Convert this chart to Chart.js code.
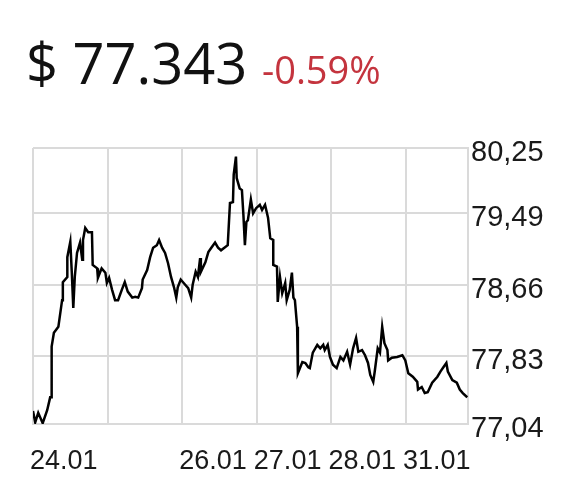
<!DOCTYPE html>
<html>
<head>
<meta charset="utf-8">
<script src="https://cdn.jsdelivr.net/npm/chart.js@4"></script>
<style>
  body { margin: 0; background: #fff; }
  #wrap { position: relative; width: 576px; height: 489px; }
  #price-chart { position: absolute; left: 0; top: 0; }
  #head { position: absolute; left: 26px; top: 34px; font-family: "Open Sans", "Noto Sans", sans-serif; font-size: 56px; line-height: 1; color: #111; white-space: nowrap; z-index: 2; }
  #head span { font-size: 38px; color: #c4343e; }
</style>
</head>
<body>
<div id="wrap">
  <div id="head">$ 77.343 <span>-0.59%</span></div>
  <canvas id="price-chart" width="576" height="489"></canvas>
</div>
<script>
// time in trading days from the 24.01 open, price in $
const times = [0.00, 0.03, 0.07, 0.13, 0.19, 0.23, 0.25, 0.25, 0.28, 0.34, 0.39, 0.40, 0.46, 0.46, 0.50, 0.52,
  0.54, 0.56, 0.59, 0.63, 0.66, 0.67, 0.70, 0.74, 0.79, 0.80, 0.86, 0.87, 0.92, 0.97, 0.99, 1.02,
  1.06, 1.10, 1.14, 1.19, 1.23, 1.27, 1.33, 1.37, 1.41, 1.46, 1.47, 1.53, 1.57, 1.61, 1.66, 1.69,
  1.73, 1.77, 1.81, 1.85, 1.89, 1.92, 1.94, 1.98, 2.04, 2.08, 2.12, 2.14, 2.18, 2.21, 2.24, 2.25,
  2.31, 2.35, 2.39, 2.44, 2.48, 2.52, 2.61, 2.64, 2.68, 2.69, 2.72, 2.73, 2.77, 2.80, 2.82, 2.84,
  2.86, 2.88, 2.92, 2.95, 2.99, 3.04, 3.07, 3.11, 3.15, 3.18, 3.22, 3.22, 3.27, 3.28, 3.31, 3.34,
  3.38, 3.40, 3.44, 3.47, 3.49, 3.51, 3.54, 3.55, 3.61, 3.65, 3.69, 3.71, 3.75, 3.81, 3.85, 3.89,
  3.91, 3.95, 3.98, 4.02, 4.07, 4.12, 4.16, 4.21, 4.25, 4.29, 4.33, 4.36, 4.41, 4.45, 4.49, 4.52,
  4.56, 4.58, 4.62, 4.65, 4.68, 4.71, 4.75, 4.76, 4.81, 4.88, 4.95, 4.99, 5.03, 5.09, 5.15, 5.16,
  5.21, 5.25, 5.29, 5.35, 5.42, 5.46, 5.50, 5.54, 5.56, 5.62, 5.68, 5.72, 5.76, 5.82];
const prices = [77.19, 77.06, 77.17, 77.05, 77.20, 77.35, 77.35, 77.94, 78.10, 78.17, 78.48, 78.69, 78.75, 78.98, 79.16, 78.80,
  78.39, 78.75, 79.03, 79.15, 78.95, 79.18, 79.32, 79.27, 79.27, 78.89, 78.85, 78.74, 78.85, 78.80, 78.68, 78.74,
  78.60, 78.48, 78.48, 78.60, 78.69, 78.58, 78.51, 78.52, 78.51, 78.62, 78.72, 78.83, 78.98, 79.09, 79.12, 79.18,
  79.09, 79.03, 78.91, 78.75, 78.63, 78.51, 78.63, 78.72, 78.66, 78.62, 78.51, 78.66, 78.81, 78.75, 78.97, 78.81,
  78.92, 79.04, 79.09, 79.15, 79.09, 79.06, 79.12, 79.61, 79.62, 79.94, 80.15, 79.90, 79.78, 79.76, 79.47, 79.12,
  79.39, 79.41, 79.65, 79.49, 79.55, 79.59, 79.53, 79.59, 79.44, 79.20, 79.18, 78.89, 78.87, 78.46, 78.75, 78.56,
  78.68, 78.48, 78.60, 78.80, 78.51, 78.48, 78.17, 77.63, 77.76, 77.75, 77.70, 77.69, 77.87, 77.96, 77.92, 77.96,
  77.90, 77.96, 77.82, 77.73, 77.69, 77.82, 77.78, 77.88, 77.73, 77.92, 78.04, 77.88, 77.90, 77.84, 77.75, 77.61,
  77.53, 77.65, 77.92, 77.87, 78.17, 77.98, 77.90, 77.78, 77.81, 77.82, 77.84, 77.78, 77.63, 77.59, 77.53, 77.44,
  77.47, 77.40, 77.41, 77.52, 77.59, 77.65, 77.70, 77.75, 77.65, 77.55, 77.52, 77.44, 77.40, 77.35];

const dayTicks = [0, 1, 2, 3, 4, 5];
const dayLabels = ['24.01', '', '26.01', '27.01', '28.01', '31.01'];
const priceTicks = [77.04, 77.83, 78.66, 79.49, 80.25];

const gridColor = '#dadada';
const fontFamily = '"Liberation Sans", Arial, sans-serif';

var ctx = document.querySelector('#price-chart').getContext('2d');
var myChart = new Chart(ctx, {
  type: 'line',
  data: {
    datasets: [{
      data: times.map((t, i) => ({ x: t, y: prices[i] })),
      borderColor: '#000',
      borderWidth: 2.5,
      pointRadius: 0,
      tension: 0
    }]
  },
  options: {
    responsive: false,
    animation: false,
    layout: { padding: { left: 33, top: 148, right: 0, bottom: 0 } },
    plugins: { legend: { display: false }, tooltip: { enabled: false } },
    scales: {
      x: {
        type: 'linear',
        min: 0,
        max: 5.83,
        afterBuildTicks: scale => { scale.ticks = dayTicks.map(v => ({ value: v })); },
        afterFit: scale => { scale.height = 65; },
        grid: { color: gridColor, lineWidth: 2, drawTicks: false },
        border: { color: gridColor, width: 2 },
        ticks: {
          autoSkip: false,
          maxRotation: 0,
          align: 'start',
          labelOffset: -3,
          padding: 21,
          color: '#1a1a1a',
          font: { family: fontFamily, size: 27 },
          callback: (value, index) => dayLabels[index]
        }
      },
      y: {
        position: 'right',
        min: 77.04,
        max: 80.25,
        afterBuildTicks: scale => { scale.ticks = priceTicks.map(v => ({ value: v })); },
        afterFit: scale => { scale.width = 108; },
        grid: { color: gridColor, lineWidth: 2, drawTicks: false },
        border: { color: gridColor, width: 2 },
        ticks: {
          padding: 3,
          labelOffset: 5,
          color: '#1a1a1a',
          font: { family: fontFamily, size: 29 },
          callback: value => value.toFixed(2).replace('.', ',')
        }
      }
    }
  }
});
</script>
</body>
</html>
